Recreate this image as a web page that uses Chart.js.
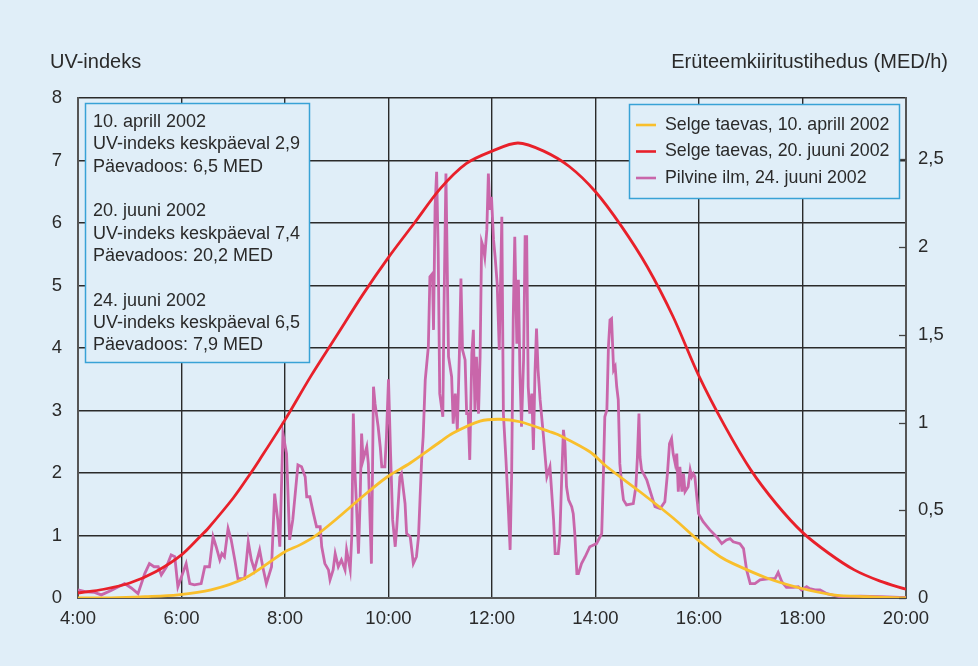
<!DOCTYPE html>
<html><head><meta charset="utf-8">
<script src="https://cdn.jsdelivr.net/npm/chart.js@4.4.1/dist/chart.umd.min.js"></script>
<style>html,body{margin:0;padding:0;background:#e0eef8;}#wrap{width:978px;height:666px;}</style>
</head><body><div id="wrap"><canvas id="c" width="978" height="666"></canvas></div>
<script>
// ---------- data ----------
const xTicks = [4, 6, 8, 10, 12, 14, 16, 18, 20];           // hours -> "H:00"
const leftTicks = [0, 1, 2, 3, 4, 5, 6, 7, 8];               // UV-indeks
const rightTicks = [0, 0.5, 1, 1.5, 2, 2.5];                 // MED/h
const rightMax = 2.85;                                        // MED/h at UV 8

const seriesLabels = ['Selge taevas, 10. aprill 2002', 'Selge taevas, 20. juuni 2002', 'Pilvine ilm, 24. juuni 2002'];
const seriesColors = ['#f9bf2c', '#e8202a', '#c966aa'];

const aprilHours = [4.0, 4.64, 5.3, 5.93, 6.57, 7.23, 8.0, 8.29, 8.58, 8.93, 9.58, 9.98, 10.42, 11.0, 11.25, 11.77, 12.15, 12.54, 13.12, 13.31, 13.89, 14.22, 14.86, 15.5, 16.02, 16.41, 16.66, 17.31, 17.95, 18.59, 19.25, 20.0];
const aprilUV    = [0.0, 0.0, 0.02, 0.05, 0.13, 0.32, 0.74, 0.85, 0.99, 1.22, 1.68, 1.94, 2.16, 2.5, 2.64, 2.83, 2.86, 2.82, 2.66, 2.6, 2.34, 2.1, 1.7, 1.28, 0.9, 0.66, 0.55, 0.32, 0.16, 0.05, 0.02, 0.0];

const juneHours = [4.0, 4.5, 5.0, 5.5, 6.0, 6.38, 6.5, 7.0, 7.34, 7.5, 8.0, 8.5, 9.0, 9.5, 10.0, 10.5, 11.0, 11.5, 12.0, 12.5, 13.0, 13.5, 14.0, 14.5, 15.0, 15.5, 16.0, 16.5, 17.0, 17.5, 18.0, 18.5, 19.0, 19.5, 20.0];
const juneUV    = [0.08, 0.14, 0.24, 0.42, 0.69, 1.0, 1.1, 1.6, 2.0, 2.2, 2.85, 3.55, 4.2, 4.85, 5.45, 6.0, 6.55, 6.95, 7.15, 7.28, 7.15, 6.9, 6.5, 5.95, 5.3, 4.5, 3.55, 2.75, 2.05, 1.5, 1.05, 0.72, 0.45, 0.27, 0.14];

const cloudyHours = [4.00,4.16,4.32,4.45,4.64,4.78,4.90,5.03,5.16,5.29,5.38,5.47,5.55,5.61,5.71,5.80,5.87,5.93,6.00,6.09,6.16,6.25,6.38,6.45,6.54,6.61,6.67,6.74,6.78,6.83,6.90,6.96,7.03,7.09,7.22,7.29,7.35,7.41,7.51,7.57,7.64,7.74,7.80,7.86,7.90,7.96,8.03,8.09,8.15,8.25,8.32,8.39,8.42,8.48,8.55,8.61,8.68,8.71,8.77,8.84,8.87,8.93,8.97,9.03,9.09,9.16,9.19,9.26,9.29,9.32,9.35,9.38,9.42,9.45,9.48,9.51,9.58,9.61,9.64,9.67,9.71,9.74,9.80,9.84,9.87,9.93,9.96,10.00,10.04,10.08,10.13,10.16,10.22,10.25,10.32,10.35,10.42,10.48,10.54,10.58,10.61,10.64,10.67,10.71,10.77,10.80,10.85,10.87,10.90,10.93,10.96,10.99,11.05,11.07,11.11,11.16,11.22,11.25,11.29,11.33,11.37,11.40,11.43,11.48,11.51,11.54,11.57,11.61,11.64,11.67,11.70,11.74,11.77,11.80,11.83,11.86,11.90,11.93,11.96,11.99,12.03,12.06,12.10,12.14,12.19,12.22,12.27,12.32,12.35,12.38,12.41,12.44,12.48,12.51,12.54,12.57,12.61,12.64,12.67,12.70,12.73,12.77,12.80,12.83,12.86,12.89,12.93,12.99,13.06,13.12,13.19,13.22,13.28,13.31,13.35,13.38,13.41,13.44,13.48,13.54,13.57,13.60,13.64,13.67,13.73,13.80,13.89,14.02,14.12,14.15,14.18,14.22,14.25,14.28,14.31,14.35,14.38,14.41,14.44,14.47,14.51,14.54,14.60,14.73,14.78,14.81,14.84,14.86,14.89,14.99,15.09,15.15,15.25,15.34,15.39,15.43,15.47,15.50,15.54,15.57,15.60,15.63,15.67,15.70,15.73,15.79,15.83,15.86,15.89,15.92,15.99,16.08,16.21,16.34,16.44,16.53,16.60,16.66,16.79,16.86,16.92,16.99,17.08,17.18,17.37,17.47,17.53,17.60,17.69,17.82,17.92,17.98,18.08,18.14,18.24,18.34,18.47,18.72,19.11,19.50,19.88,20.00];
const cloudyUV    = [0.13,0.10,0.09,0.05,0.12,0.18,0.23,0.16,0.07,0.39,0.55,0.50,0.50,0.37,0.50,0.69,0.66,0.18,0.34,0.55,0.23,0.21,0.23,0.50,0.50,0.98,0.82,0.61,0.71,0.66,1.11,0.93,0.61,0.31,0.31,0.90,0.61,0.45,0.77,0.50,0.23,0.50,1.67,1.25,0.82,2.63,2.31,0.93,1.25,2.13,2.10,1.94,1.62,1.62,1.35,1.14,1.14,0.82,0.55,0.45,0.29,0.45,0.71,0.50,0.61,0.45,0.77,0.45,0.98,2.95,2.05,1.51,0.71,1.51,2.63,2.21,2.42,2.15,1.35,0.55,3.38,3.11,2.74,2.42,2.10,2.10,2.58,3.50,2.31,1.25,0.82,1.14,1.94,1.99,1.51,1.03,0.98,0.55,0.66,0.98,1.60,2.20,2.58,3.49,4.02,5.14,5.19,4.29,6.26,6.82,5.57,3.27,2.90,4.50,6.79,3.86,3.54,2.79,3.27,2.69,3.91,5.11,3.97,3.81,2.95,2.95,2.21,3.91,4.29,3.01,3.86,2.95,3.86,5.70,5.62,5.46,5.89,6.79,6.21,6.42,5.73,5.46,5.03,3.97,6.10,2.95,2.21,1.35,0.77,1.99,4.45,5.78,4.07,5.09,3.59,2.74,3.81,5.78,5.78,3.38,2.95,3.27,2.37,3.59,4.31,3.65,3.17,2.63,1.94,2.10,1.25,0.71,0.71,0.98,1.99,2.69,2.47,1.78,1.57,1.46,1.35,1.03,0.39,0.39,0.55,0.66,0.82,0.87,1.03,1.89,2.90,3.01,4.02,4.45,4.47,3.65,3.70,3.38,3.17,2.15,1.78,1.57,1.49,1.51,1.78,2.26,2.95,2.26,2.05,1.89,1.62,1.46,1.43,1.54,1.99,2.47,2.55,2.31,2.15,2.31,1.70,2.10,1.70,1.99,1.70,1.78,2.05,1.94,1.99,1.94,1.35,1.22,1.09,0.98,0.87,0.93,0.95,0.90,0.87,0.79,0.45,0.23,0.23,0.29,0.31,0.31,0.41,0.26,0.17,0.17,0.18,0.13,0.18,0.15,0.13,0.13,0.07,0.02,0.03,0.02,0.01,0.01];

const noteLines = [
  ['10. aprill 2002', 'UV-indeks keskpäeval 2,9', 'Päevadoos: 6,5 MED'],
  ['20. juuni 2002', 'UV-indeks keskpäeval 7,4', 'Päevadoos: 20,2 MED'],
  ['24. juuni 2002', 'UV-indeks keskpäeval 6,5', 'Päevadoos: 7,9 MED']
];
const leftTitle = 'UV-indeks';
const rightTitle = 'Erüteemkiiritustihedus (MED/h)';

// ---------- chart ----------
const FONT = "'Liberation Sans', Arial, Helvetica, sans-serif";
const TXT = '#2a2a2a';
const BOXC = '#38a2d6';
const BG = '#e0eef8';
const toPts = (xs, ys) => xs.map((x, i) => ({x: x, y: ys[i]}));

const extras = {
  id: 'extras',
  afterDatasetsDraw(chart) {
    const ctx = chart.ctx;
    const y2 = chart.scales.y2;
    const ca = chart.chartArea;
    ctx.save();
    // right-axis inner tick marks
    ctx.strokeStyle = '#444'; ctx.lineWidth = 1.3;
    rightTicks.forEach(v => {
      const py = Math.round(y2.getPixelForValue(v)) + 0.5;
      ctx.beginPath(); ctx.moveTo(ca.right - 7, py); ctx.lineTo(ca.right, py); ctx.stroke();
    });
    // annotation box
    ctx.fillStyle = BG; ctx.strokeStyle = BOXC; ctx.lineWidth = 1.5;
    ctx.fillRect(85.5, 103.5, 224, 259); ctx.strokeRect(85.5, 103.5, 224, 259);
    ctx.fillStyle = TXT; ctx.font = '18px ' + FONT; ctx.textBaseline = 'middle'; ctx.textAlign = 'left';
    noteLines.forEach((blk, b) => {
      blk.forEach((t, i) => ctx.fillText(t, 93, 122 + b * 89.3 + i * 22.3));
    });
    // legend box
    ctx.fillStyle = BG; ctx.strokeStyle = BOXC; ctx.lineWidth = 1.5;
    ctx.fillRect(629.5, 104.5, 270, 94); ctx.strokeRect(629.5, 104.5, 270, 94);
    ctx.font = '17.8px ' + FONT;
    chart.data.datasets.forEach((ds, i) => {
      const yy = 125 + i * 26.5;
      ctx.strokeStyle = ds.borderColor; ctx.lineWidth = 2.6;
      ctx.beginPath(); ctx.moveTo(636, yy); ctx.lineTo(656, yy); ctx.stroke();
      ctx.fillStyle = TXT; ctx.fillText(ds.label, 665, yy);
    });
    // axis titles
    ctx.font = '20px ' + FONT; ctx.fillStyle = TXT;
    ctx.textAlign = 'left'; ctx.fillText(leftTitle, 50, 62);
    ctx.textAlign = 'right'; ctx.fillText(rightTitle, 948, 62);
    ctx.restore();
  }
};

const gridCfg = {color: '#2a2a2a', lineWidth: 1.4, drawTicks: false};
new Chart(document.getElementById('c'), {
  type: 'line',
  data: {
    datasets: [
      {label: seriesLabels[0], data: toPts(aprilHours, aprilUV), borderColor: seriesColors[0], borderWidth: 2.8, pointRadius: 0, tension: 0.3, order: 2},
      {label: seriesLabels[1], data: toPts(juneHours, juneUV), borderColor: seriesColors[1], borderWidth: 2.8, pointRadius: 0, tension: 0.3, order: 1},
      {label: seriesLabels[2], data: toPts(cloudyHours, cloudyUV), borderColor: seriesColors[2], borderWidth: 2.8, pointRadius: 0, tension: 0, order: 3}
    ]
  },
  options: {
    responsive: false, animation: false,
    layout: {padding: {top: 98, left: 0, right: 0, bottom: 0}},
    plugins: {legend: {display: false}, tooltip: {enabled: false}},
    scales: {
      x: {
        type: 'linear', min: 4, max: 20,
        afterBuildTicks: s => { s.ticks = xTicks.map(v => ({value: v})); },
        afterFit: s => { s.height = 68; },
        ticks: {callback: v => v + ':00', font: {size: 18.5, family: FONT}, color: TXT, padding: 10, maxRotation: 0},
        grid: gridCfg,
        border: {display: true, color: '#555', width: 2}
      },
      y: {
        position: 'left', min: 0, max: 8,
        afterBuildTicks: s => { s.ticks = leftTicks.map(v => ({value: v})); },
        afterFit: s => { s.width = 78; },
        ticks: {font: {size: 18.5, family: FONT}, color: TXT, padding: 16},
        grid: gridCfg,
        border: {display: true, color: '#555', width: 2}
      },
      y2: {
        position: 'right', min: 0, max: rightMax,
        afterBuildTicks: s => { s.ticks = rightTicks.map(v => ({value: v})); },
        afterFit: s => { s.width = 72; },
        ticks: {font: {size: 18.5, family: FONT}, color: TXT, padding: 12, callback: v => String(v).replace('.', ',')},
        grid: {drawOnChartArea: false, drawTicks: false},
        border: {display: true, color: '#555', width: 2}
      }
    }
  },
  plugins: [extras]
});
</script></body></html>
